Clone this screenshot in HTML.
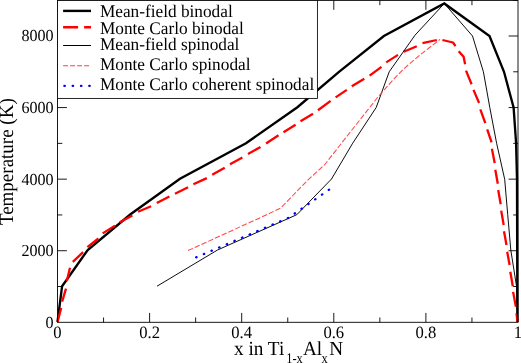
<!DOCTYPE html>
<html><head><meta charset="utf-8"><style>
html,body{margin:0;padding:0;background:#fff;}
body{width:521px;height:363px;overflow:hidden;}
svg{display:block;}
text{font-family:"Liberation Serif",serif;fill:#000;text-rendering:geometricPrecision;}
.tk line{stroke:#000;stroke-width:0.9;}
.tl text{font-size:15.5px;}
.lt{font-size:17.1px;}
</style></head><body>
<svg width="521" height="363" viewBox="0 0 521 363" style="will-change:transform;">
<rect x="0" y="0" width="521" height="363" fill="#fff"/>
<g fill="none" stroke-linejoin="round">
<path d="M57.5,322.0 L62.1,286.2 L87.7,250.0 L130.2,214.5 L180.0,178.8 L246.0,143.2 L297.4,107.2 L339.0,71.8 L383.9,36.0 L444.3,3.5 L489.5,36.0 L504.0,71.8 L513.6,107.5 L516.1,143.2 L517.0,179.0 L517.4,322.0" stroke="#000" stroke-width="2.35" stroke-linejoin="miter"/>
<path d="M57.5,322.0 L61.2,308.0 M62.1,301.7 L66.0,288.6 M66.8,281.1 L70.0,267.7 M72.8,261.8 L83.1,252.2 M87.4,247.2 L98.4,238.5 M102.7,233.4 L115.0,225.6 M119.7,222.2 L132.4,215.6 M138.0,211.8 L151.1,206.2 M156.8,203.1 L169.4,196.4 M175.0,193.7 L188.1,187.2 M193.4,184.3 L206.8,178.1 M212.2,174.7 L224.7,167.7 M230.0,164.3 L242.4,157.5 M248.0,154.1 L260.5,146.9 M266.1,143.5 L278.5,135.2 M283.5,132.2 L295.6,124.7 M300.5,121.2 L313.0,113.7 M318.0,110.2 L330.6,100.9 M335.6,97.4 L346.8,89.9 M351.8,86.2 L364.3,78.7 M369.6,75.6 L381.5,66.8 M386.2,62.4 L398.0,54.9 M403.7,51.8 L416.8,46.2 M422.5,43.1 L436.8,40.0 M442.4,40.0 L453.0,42.5 L455.5,46.2 M458.7,51.2 L463.6,56.8 L465.1,64.3 M466.0,70.6 L471.6,84.3 M473.5,89.9 L479.1,103.0 M480.3,109.4 L485.3,123.1 M487.2,129.3 L491.6,142.4 M491.9,148.7 L494.7,163.1 M495.3,169.7 L497.8,183.7 M498.2,190.0 L500.7,204.3 M501.2,210.6 L503.7,225.0 M504.0,231.2 L506.5,245.0 M507.2,251.8 L509.6,265.0 M510.3,271.8 L512.8,286.2 M513.1,291.9 L515.9,306.8 M516.5,313.1 L517.5,322.0" stroke="#f00" stroke-width="2.3"/>
<path d="M157.0,286.2 L217.5,250.0 L296.8,214.7 L331.5,179.0 L352.7,143.2 L376.2,107.5 L389.2,71.8 L415.0,35.2 L444.3,3.5 L472.5,36.0 L483.4,71.8 L489.8,107.5 L496.6,143.2 L504.7,179.3 L507.7,214.5 L510.8,250.0 L516.5,286.2 L517.5,322.0" stroke="#000" stroke-width="0.95"/>
<path d="M188.0,250.6 L265.0,215.5 L280.6,208.1 L308.1,179.8 L325.0,164.3 L346.9,136.3 L378.1,96.8 L392.5,80.5 L403.0,69.5 L419.9,55.0 L440.0,39.4" stroke="#ff4848" stroke-width="1.05" stroke-dasharray="5.4 2"/>
<path d="M196.2,257.3 L288.6,217.8 L330.0,189.0" stroke="#00f" stroke-width="2.35" stroke-dasharray="0.4 7.9" stroke-linecap="round"/>
</g>
<rect x="57.5" y="0.4" width="460.5" height="321.90000000000003" fill="none" stroke="#000" stroke-width="0.9"/>
<g class="tk"><line x1="103.55000000000001" y1="322.3" x2="103.55000000000001" y2="317.5"/><line x1="103.55000000000001" y1="0.4" x2="103.55000000000001" y2="5.2"/><line x1="149.60000000000002" y1="322.3" x2="149.60000000000002" y2="312.90000000000003"/><line x1="149.60000000000002" y1="0.4" x2="149.60000000000002" y2="9.8"/><line x1="195.65" y1="322.3" x2="195.65" y2="317.5"/><line x1="195.65" y1="0.4" x2="195.65" y2="5.2"/><line x1="241.70000000000002" y1="322.3" x2="241.70000000000002" y2="312.90000000000003"/><line x1="241.70000000000002" y1="0.4" x2="241.70000000000002" y2="9.8"/><line x1="287.75" y1="322.3" x2="287.75" y2="317.5"/><line x1="287.75" y1="0.4" x2="287.75" y2="5.2"/><line x1="333.8" y1="322.3" x2="333.8" y2="312.90000000000003"/><line x1="333.8" y1="0.4" x2="333.8" y2="9.8"/><line x1="379.84999999999997" y1="322.3" x2="379.84999999999997" y2="317.5"/><line x1="379.84999999999997" y1="0.4" x2="379.84999999999997" y2="5.2"/><line x1="425.90000000000003" y1="322.3" x2="425.90000000000003" y2="312.90000000000003"/><line x1="425.90000000000003" y1="0.4" x2="425.90000000000003" y2="9.8"/><line x1="471.95" y1="322.3" x2="471.95" y2="317.5"/><line x1="471.95" y1="0.4" x2="471.95" y2="5.2"/><line x1="57.5" y1="286.5125" x2="62.3" y2="286.5125"/><line x1="518.0" y1="286.5125" x2="513.2" y2="286.5125"/><line x1="57.5" y1="250.72500000000002" x2="66.9" y2="250.72500000000002"/><line x1="518.0" y1="250.72500000000002" x2="508.6" y2="250.72500000000002"/><line x1="57.5" y1="214.9375" x2="62.3" y2="214.9375"/><line x1="518.0" y1="214.9375" x2="513.2" y2="214.9375"/><line x1="57.5" y1="179.15" x2="66.9" y2="179.15"/><line x1="518.0" y1="179.15" x2="508.6" y2="179.15"/><line x1="57.5" y1="143.3625" x2="62.3" y2="143.3625"/><line x1="518.0" y1="143.3625" x2="513.2" y2="143.3625"/><line x1="57.5" y1="107.57500000000002" x2="66.9" y2="107.57500000000002"/><line x1="518.0" y1="107.57500000000002" x2="508.6" y2="107.57500000000002"/><line x1="57.5" y1="71.78750000000002" x2="62.3" y2="71.78750000000002"/><line x1="518.0" y1="71.78750000000002" x2="513.2" y2="71.78750000000002"/><line x1="57.5" y1="36.0" x2="66.9" y2="36.0"/><line x1="518.0" y1="36.0" x2="508.6" y2="36.0"/><line x1="57.5" y1="0.2125000000000341" x2="62.3" y2="0.2125000000000341"/><line x1="518.0" y1="0.2125000000000341" x2="513.2" y2="0.2125000000000341"/></g>
<rect x="57.5" y="0.4" width="259.9" height="98.0" fill="#fff" stroke="#000" stroke-width="0.85"/>
<line x1="63.1" y1="10.9" x2="91" y2="10.9" stroke="#000" stroke-width="2.4"/><text transform="translate(99.9,16.5) scale(1.01,1.04)" class="lt">Mean-field binodal</text><line x1="63.1" y1="27.2" x2="91" y2="27.2" stroke="#f00" stroke-width="2.4" stroke-dasharray="15 6"/><text transform="translate(99.9,33.6) scale(1.01,1.04)" class="lt">Monte Carlo binodal</text><line x1="63.1" y1="45.5" x2="91" y2="45.5" stroke="#000" stroke-width="1"/><text transform="translate(99.9,50.3) scale(1.01,1.04)" class="lt">Mean-field spinodal</text><line x1="63.1" y1="65.7" x2="91" y2="65.7" stroke="#ff4040" stroke-width="1.1" stroke-dasharray="5 2"/><text transform="translate(99.9,70) scale(1.01,1.04)" class="lt">Monte Carlo spinodal</text><line x1="64.4" y1="85.8" x2="91" y2="85.8" stroke="#00f" stroke-width="2.35" stroke-dasharray="0.4 7.9" stroke-linecap="round"/><text transform="translate(99.9,90.0) scale(1.01,1.04)" class="lt">Monte Carlo coherent spinodal</text>
<g class="tl"><text transform="translate(57.5,337.5) scale(1,1.047)" style="font-size:16.6px" text-anchor="middle">0</text><text transform="translate(149.60000000000002,337.5) scale(1,1.047)" style="font-size:16.6px" text-anchor="middle">0.2</text><text transform="translate(241.70000000000002,337.5) scale(1,1.047)" style="font-size:16.6px" text-anchor="middle">0.4</text><text transform="translate(333.8,337.5) scale(1,1.047)" style="font-size:16.6px" text-anchor="middle">0.6</text><text transform="translate(425.90000000000003,337.5) scale(1,1.047)" style="font-size:16.6px" text-anchor="middle">0.8</text><text transform="translate(518.0,337.5) scale(1,1.047)" style="font-size:16.6px" text-anchor="middle">1</text><text transform="translate(53.6,327.7) scale(1,1.045)" style="font-size:16.1px" text-anchor="end">0</text><text transform="translate(53.6,256.125) scale(1,1.045)" style="font-size:16.1px" text-anchor="end">2000</text><text transform="translate(53.6,184.55) scale(1,1.045)" style="font-size:16.1px" text-anchor="end">4000</text><text transform="translate(53.6,112.97500000000002) scale(1,1.045)" style="font-size:16.1px" text-anchor="end">6000</text><text transform="translate(53.6,41.4) scale(1,1.045)" style="font-size:16.1px" text-anchor="end">8000</text></g>
<text x="0" y="0" font-size="19" text-anchor="middle" transform="translate(13.1,161.7) rotate(-90) scale(1,1.06)">Temperature (K)</text>
<g font-size="19.2"><text transform="translate(234.1,355.1) scale(1,1.04)">x in Ti</text>
<text transform="translate(303.0,355.1) scale(1,1.04)">Al</text>
<text transform="translate(329.2,355.1) scale(1,1.04)">N</text></g>
<g font-size="12.5"><text transform="translate(286.2,363.2) scale(1,1.17)">1-x</text>
<text transform="translate(321.6,363.2) scale(1,1.17)">x</text></g>
</svg>
</body></html>
